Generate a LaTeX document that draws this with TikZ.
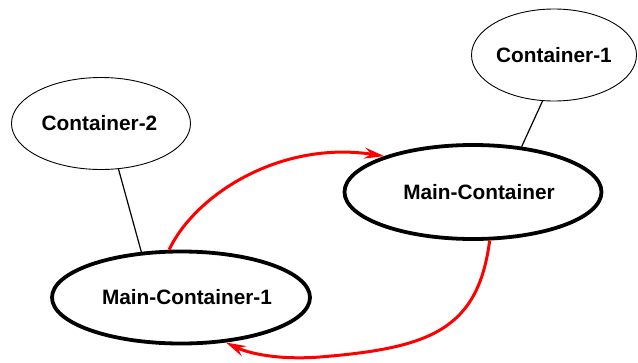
\documentclass[tikz,border=0pt]{standalone}
\usepackage{fontspec}
\setmainfont{Liberation Sans}
\usetikzlibrary{shapes.geometric,arrows.meta}
\begin{document}
\begin{tikzpicture}[x=1pt,y=-1pt,
  cont/.style={ellipse,draw=black,line width=0.9pt,inner sep=0pt,
    font=\fontsize{20.8}{24}\selectfont\bfseries},
  maincont/.style={cont,line width=3.8pt},
  link/.style={draw=black,line width=1.2pt},
  flow/.style={draw=red,line width=3pt,
    -{Stealth[length=20pt,width=11pt,inset=7pt]}}]
\useasboundingbox (0,0) rectangle (638,362);
\node[cont,minimum width=165pt,minimum height=92pt] (c1) at (554,55) {Container-1};
\node[cont,minimum width=179pt,minimum height=92pt] (c2) at (101,123.5) {\hspace*{0pt}Container-2\hspace*{3pt}};
\node[maincont,minimum width=257pt,minimum height=94pt] (mc) at (473,192) {\hspace*{12pt}Main-Container};
\node[maincont,minimum width=258pt,minimum height=92pt] (mc1) at (181,297.5) {\hspace*{12pt}Main-Container-1};
\draw[link] (c1.256) -- (mc.43);
\draw[link] (c2.-69.6) -- (mc1.131.9);
\draw[flow] (mc1.104) .. controls (195,195) and (280,140) .. (mc.158);
\draw[flow] (mc.-71.6) .. controls (478,330) and (430,348) .. (320,357)
  .. controls (280,360) and (250,354) .. (mc1.-45.3);
\end{tikzpicture}
\end{document}
